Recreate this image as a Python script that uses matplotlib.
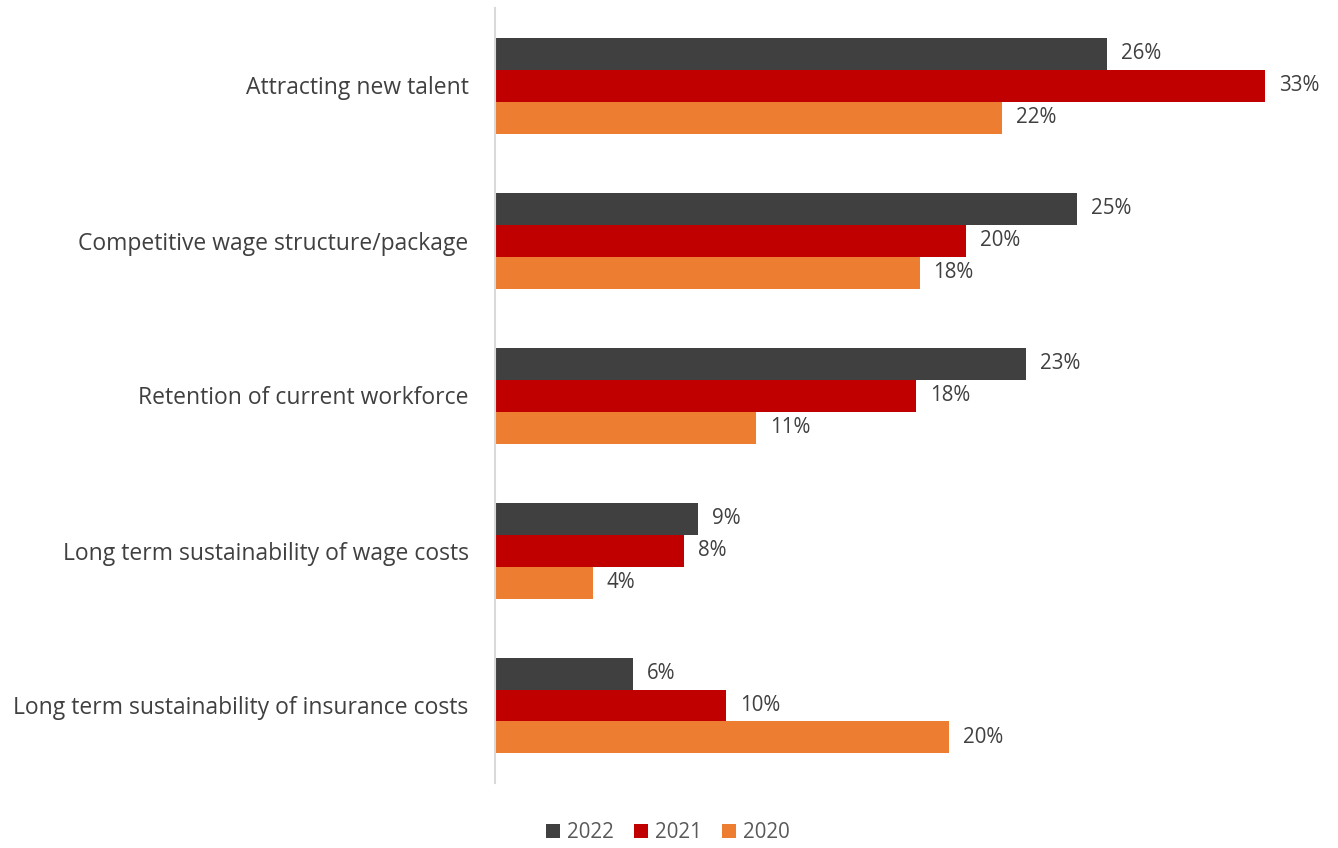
import matplotlib
matplotlib.use("Agg")
import matplotlib.pyplot as plt
import numpy as np

categories = [
    "Attracting new talent",
    "Competitive wage structure/package",
    "Retention of current workforce",
    "Long term sustainability of wage costs",
    "Long term sustainability of insurance costs",
]
series_names = ["2022", "2021", "2020"]
values_2022 = [26.4, 25.1, 22.9, 8.75, 5.95]
values_2021 = [33.2, 20.3, 18.15, 8.15, 9.96]
values_2020 = [21.85, 18.3, 11.25, 4.22, 19.57]
colors = ["#404040", "#C00000", "#ED7D31"]

plt.rcParams['font.family'] = ['Open Sans', 'DejaVu Sans']

fig = plt.figure(figsize=(13.38, 8.48), dpi=100)
W, H = 1338, 848
ax = fig.add_axes([495 / W, 1 - 783 / H, (1295 - 495) / W, (783 - 8) / H])

y = np.arange(len(categories))
bh = 32 / 155
series = [values_2022, values_2021, values_2020]
for i, (name, vals, c) in enumerate(zip(series_names, series, colors)):
    pos = y + (i - 1) * bh
    ax.barh(pos, vals, height=bh, color=c, label=name, edgecolor='none')
    for p, v in zip(pos, vals):
        ax.text(v + 0.6, p, f"{round(v)}%", va='center', ha='left',
                fontsize=14.8, color='#404040')

ax.set_xlim(0, (1295 - 495) / 23.2)
ax.set_ylim(len(categories) - 0.5, -0.5)
ax.set_yticks(y)
ax.set_yticklabels(categories, fontsize=16.5, color='#404040')
ax.tick_params(axis='y', length=0, pad=19)
ax.set_xticks([])
for s in ['top', 'right', 'bottom']:
    ax.spines[s].set_visible(False)
ax.spines['left'].set_color('#D9D9D9')
ax.spines['left'].set_linewidth(1.5)

leg = fig.legend(loc='center', bbox_to_anchor=(668 / W, 1 - 833 / H), ncol=3,
                 frameon=False, fontsize=14.8, handlelength=0.65, handleheight=0.65,
                 handletextpad=0.35, columnspacing=1.0)
for t in leg.get_texts():
    t.set_color('#595959')

fig.savefig("out.png", dpi=100)
